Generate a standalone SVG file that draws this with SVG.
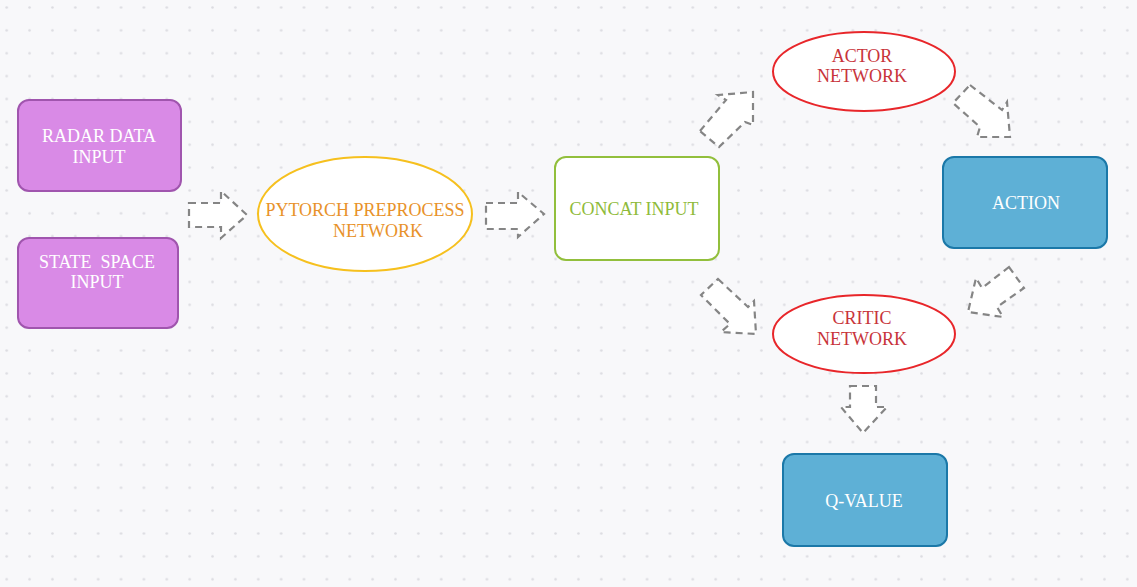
<svg xmlns="http://www.w3.org/2000/svg" width="1137" height="587" viewBox="0 0 1137 587">
<defs>
<pattern id="dots" patternUnits="userSpaceOnUse" x="5.2" y="6" width="22.87" height="22.87">
<circle cx="1.5" cy="1.5" r="1.3" fill="#dcdce1"/>
</pattern>
</defs>
<style>
text{font-family:"Liberation Serif","Times New Roman",serif;font-size:18px;text-anchor:middle;white-space:pre}
.purple{fill:#d98ae6;stroke:#a055ae;stroke-width:2}
.blue{fill:#5eb0d6;stroke:#1b78a8;stroke-width:2}
.white{fill:#ffffff}
.red{fill:#c8343a}
.arrow{fill:#ffffff;stroke:#858585;stroke-width:2.2;stroke-dasharray:7 5;stroke-linejoin:miter}
</style>
<rect width="1137" height="587" fill="#f8f8fa"/>
<rect width="1137" height="587" fill="url(#dots)"/>

<g id="connectors">
<polygon class="arrow" points="189,203 221,203 221,191 247,215 221,238 221,227 189,227"/>
<polygon class="arrow" points="486,203 518,203 518,192 544,214 518,237 518,229 486,229"/>
<polygon class="arrow" points="700,131 726,100 718,95 753,92 753,125 745,122 719,147"/>
<polygon class="arrow" points="970,85 1002,110 1007,102 1010,137 977,137 980,127 953,103"/>
<polygon class="arrow" points="718,279 748,307 754,301 756,334 721,332 730,324 701,295"/>
<polygon class="arrow" points="1009,267 1024,288 997,307 1003,317 968,312 976,278 982,288"/>
<polygon class="arrow" points="850,386 876,386 876,407 887,407 863,433 841,407 850,407"/>
</g>

<g id="radar">
<rect class="purple" x="18" y="100" width="163" height="91" rx="11"/>
<text class="white" x="99" y="142">RADAR DATA</text>
<text class="white" x="99" y="163">INPUT</text>
</g>
<g id="state">
<rect class="purple" x="18" y="238" width="160" height="90" rx="11"/>
<text class="white" x="97" y="268">STATE  SPACE</text>
<text class="white" x="97" y="288">INPUT</text>
</g>
<g id="pytorch">
<ellipse cx="365" cy="214" rx="107" ry="57" fill="#ffffff" stroke="#f6c01e" stroke-width="2"/>
<text x="365" y="216" fill="#e8922a">PYTORCH PREPROCESS</text>
<text x="378" y="237" fill="#e8922a">NETWORK</text>
</g>
<g id="concat">
<rect x="555" y="157" width="164" height="103" rx="11" fill="#ffffff" stroke="#92bf3c" stroke-width="2"/>
<text x="634" y="215" fill="#8fbb3a">CONCAT INPUT</text>
</g>
<g id="actor">
<ellipse cx="864" cy="71.5" rx="91" ry="39.5" fill="#ffffff" stroke="#e8262a" stroke-width="2"/>
<text class="red" x="862" y="62">ACTOR</text>
<text class="red" x="862" y="82">NETWORK</text>
</g>
<g id="critic">
<ellipse cx="864" cy="334" rx="91" ry="39" fill="#ffffff" stroke="#e8262a" stroke-width="2"/>
<text class="red" x="862" y="324">CRITIC</text>
<text class="red" x="862" y="345">NETWORK</text>
</g>
<g id="action">
<rect class="blue" x="943" y="157" width="164" height="91" rx="11"/>
<text class="white" x="1026" y="209">ACTION</text>
</g>
<g id="qvalue">
<rect class="blue" x="783" y="454" width="164" height="92" rx="11"/>
<text class="white" x="864" y="507">Q-VALUE</text>
</g>
</svg>
